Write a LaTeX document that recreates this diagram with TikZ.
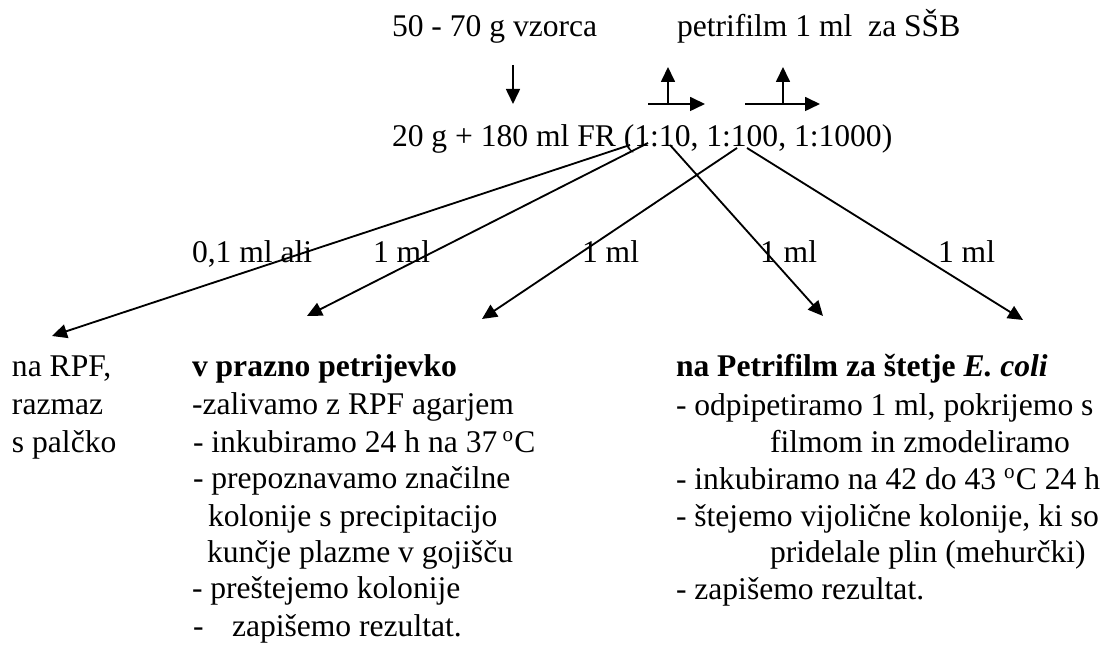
\documentclass[tikz,border=0pt]{standalone}
\usepackage{fontspec}
\setmainfont{Liberation Serif}
\usetikzlibrary{arrows.meta}
\begin{document}
\begin{tikzpicture}[x=0.38pt,y=-0.38pt,
  txt/.style={anchor=base west,inner sep=0pt,outer sep=0pt,font=\fontsize{12pt}{14pt}\selectfont},
  arr/.style={line width=0.7pt,-{Triangle[length=5.7pt,width=5.3pt]}},
  seg/.style={line width=0.7pt}]
\useasboundingbox (0,0) rectangle (1105,647);
% top
\node[txt] (vz) at (392,37) {50 - 70 g vzorca};
\node[txt] (pf) at (677,37) {petrifilm 1 ml\ \ za SŠB};
\node[txt] (fr) at (392,147) {20 g + 180 ml FR (1:10, 1:100, 1:1000)};
\coordinate (d1) at (513,65);
\coordinate (d2) at (513,104);
\draw[arr] (d1) -- (d2);
\coordinate (h1a) at (648,104);
\coordinate (h1b) at (705,104);
\coordinate (v1a) at (668,104);
\coordinate (v1b) at (668,67);
\draw[arr] (h1a) -- (h1b);
\draw[arr] (v1a) -- (v1b);
\coordinate (h2a) at (745,104);
\coordinate (h2b) at (820,104);
\coordinate (v2a) at (783,104);
\coordinate (v2b) at (783,67);
\draw[arr] (h2a) -- (h2b);
\draw[arr] (v2a) -- (v2b);
% branch arrows
\coordinate (s1) at (630,145);
\coordinate (s2) at (648,143);
\coordinate (s3) at (737,148);
\coordinate (s4) at (670,145);
\coordinate (s5) at (747,148);
\coordinate (t1) at (52,336);
\coordinate (t2) at (307,316);
\coordinate (t3) at (482,319);
\coordinate (t4) at (823,316);
\coordinate (t5) at (1023,320);
\draw[arr] (s1) -- (t1);
\draw[arr] (s2) -- (t2);
\draw[arr] (s3) -- (t3);
\draw[arr] (s4) -- (t4);
\draw[arr] (s5) -- (t5);
% labels
\node[txt] (la) at (192,263) {0,1 ml ali};
\node[txt] (lb) at (373,263) {1 ml};
\node[txt] (lc) at (582,263) {1 ml};
\node[txt] (ld) at (760,263) {1 ml};
\node[txt] (le) at (938,263) {1 ml};
% left block
\node[txt] (a1) at (12,377) {na RPF,};
\node[txt] (a2) at (12,415) {razmaz};
\node[txt] (a3) at (12,453) {s palčko};
% middle block
\node[txt] (b1) at (192,377) {\textbf{v prazno petrijevko}};
\node[txt] (b2) at (192,415) {-zalivamo z RPF agarjem};
\node[txt] (b3) at (193,453) {- inkubiramo 24 h na 37\,\textsuperscript{o}C};
\node[txt] (b4) at (193,489) {- prepoznavamo značilne};
\node[txt] (b5) at (208,527) {kolonije s precipitacijo};
\node[txt] (b6) at (207,563) {kunčje plazme v gojišču};
\node[txt] (b7) at (192,599) {- preštejemo kolonije};
\node[txt] (b8) at (193,637) {-};
\node[txt] (b9) at (232,637) {zapišemo rezultat.};
% right block
\node[txt] (c1) at (676,377) {\textbf{na Petrifilm za štetje \textit{E. coli}}};
\node[txt] (c2) at (676,416) {- odpipetiramo 1 ml, pokrijemo s};
\node[txt] (c3) at (770,453) {filmom in zmodeliramo};
\node[txt] (c4) at (676,490) {- inkubiramo na 42 do 43 \textsuperscript{o}C 24 h};
\node[txt] (c5) at (676,527) {- štejemo vijolične kolonije, ki so};
\node[txt] (c6) at (770,563) {pridelale plin (mehurčki)};
\node[txt] (c7) at (676,600) {- zapišemo rezultat.};
\end{tikzpicture}
\end{document}
